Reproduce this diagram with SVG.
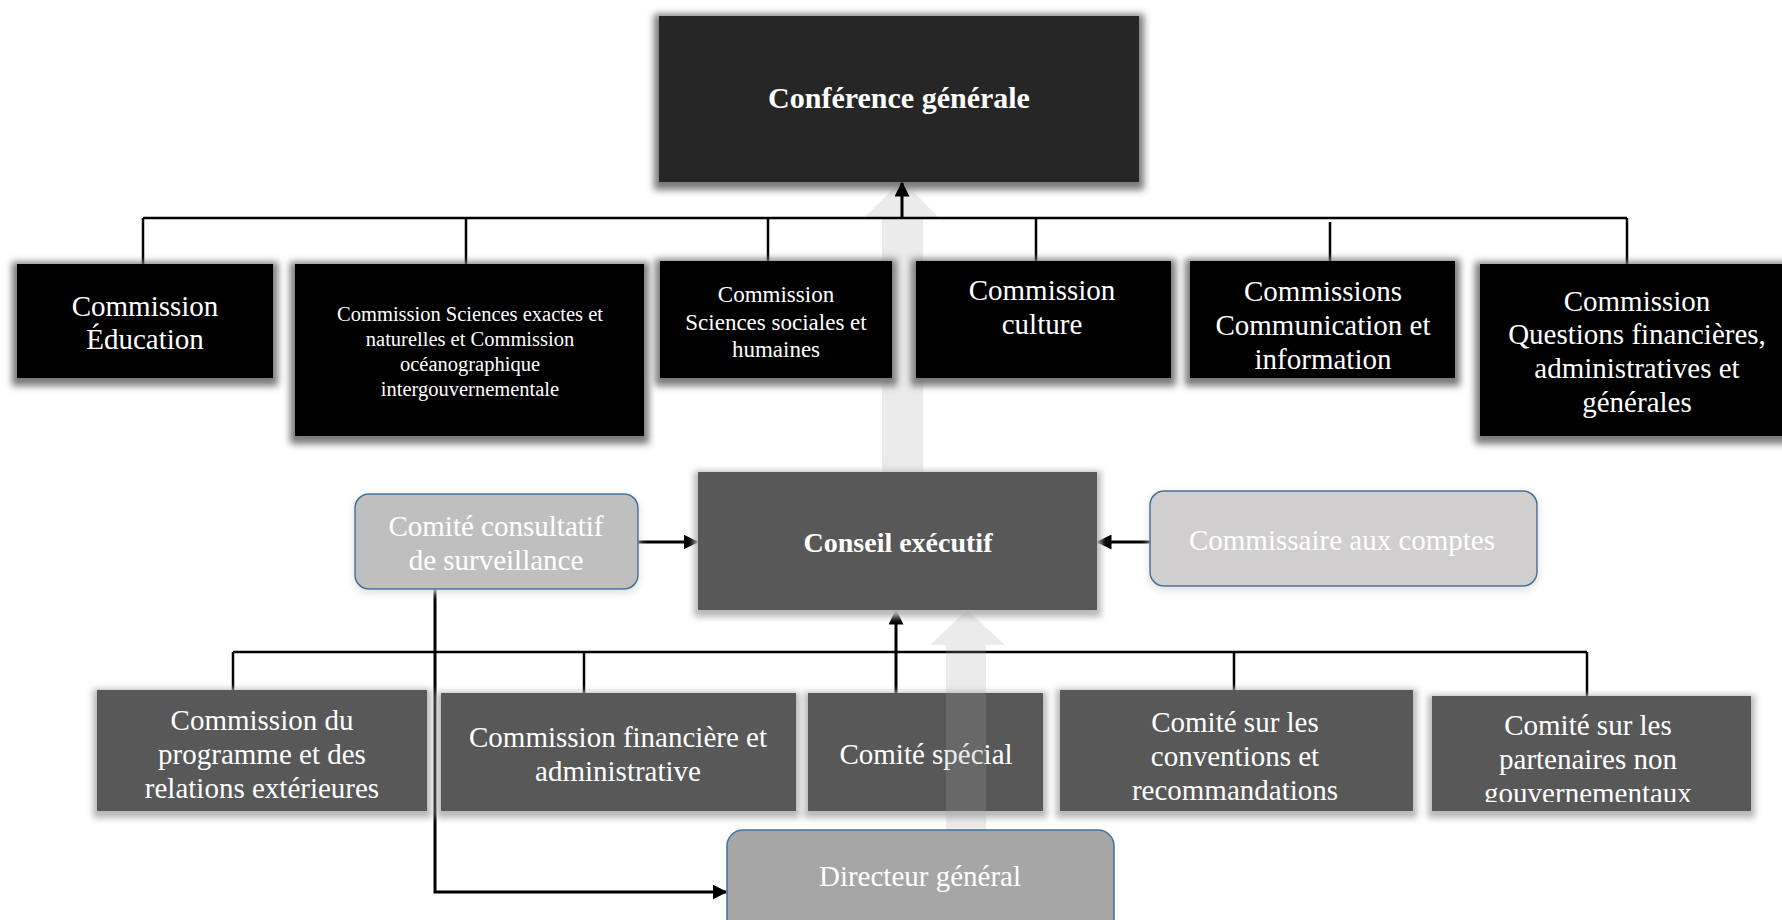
<svg xmlns="http://www.w3.org/2000/svg" width="1782" height="920" viewBox="0 0 1782 920">
<style>
text{font-family:"Liberation Serif","Times New Roman",serif;fill:#ffffff;text-anchor:middle;font-size:29px}
.b{font-weight:bold}
.s{font-size:20.5px}
.m{font-size:23px}
.bus{stroke:#000;stroke-width:2.5;fill:none}
.arr{stroke:#000;stroke-width:3;fill:none;marker-end:url(#ah)}
.big{fill:#a6a6a6;fill-opacity:0.22}
</style>
<defs>
<filter id="glow" x="-10%" y="-15%" width="120%" height="135%">
<feMorphology in="SourceAlpha" operator="dilate" radius="5"/>
<feGaussianBlur stdDeviation="3.5"/>
<feOffset dx="0" dy="3" result="b"/>
<feFlood flood-color="#7a7a7a"/>
<feComposite in2="b" operator="in"/>
<feMerge><feMergeNode/><feMergeNode in="SourceGraphic"/></feMerge>
</filter>
<filter id="soft" x="-10%" y="-15%" width="120%" height="135%">
<feMorphology in="SourceAlpha" operator="dilate" radius="4"/>
<feGaussianBlur stdDeviation="3"/>
<feOffset dx="0" dy="3" result="b"/>
<feFlood flood-color="#b8b8b8"/>
<feComposite in2="b" operator="in"/>
<feMerge><feMergeNode/><feMergeNode in="SourceGraphic"/></feMerge>
</filter>
<filter id="faint" x="-10%" y="-15%" width="120%" height="135%">
<feGaussianBlur in="SourceAlpha" stdDeviation="4"/>
<feOffset dx="0" dy="3" result="b"/>
<feFlood flood-color="#dcdcdc"/>
<feComposite in2="b" operator="in"/>
<feMerge><feMergeNode/><feMergeNode in="SourceGraphic"/></feMerge>
</filter>
<marker id="ah" viewBox="0 0 10 10" refX="9" refY="5" markerWidth="5" markerHeight="5" orient="auto" markerUnits="strokeWidth">
<path d="M0,0 L10,5 L0,10 z" fill="#000"/>
</marker>
<clipPath id="clipP"><rect x="1432" y="696" width="319" height="106"/></clipPath>
</defs>

<!-- big background arrow (behind) -->
<polygon class="big" points="882,472 923,472 923,218 939,218 902,180 864,218 882,218"/>

<g id="conference">
<rect x="659" y="16" width="480" height="166" fill="#262626" filter="url(#glow)"/>
<text class="b" x="899" y="108" style="font-size:30px">Conférence générale</text>
</g>

<g id="connectors">
<path class="bus" d="M143,218 H1627 M143,218 V264 M466,218 V264 M768,218 V261 M1036,218 V261 M1330,222 V261 M1627,218 V264"/>
<line class="arr" x1="902" y1="218" x2="902" y2="183"/>
<line class="arr" x1="638" y1="542" x2="697" y2="542"/>
<line class="arr" x1="1150" y1="542" x2="1098" y2="542"/>
<polyline class="arr" points="435,589 435,892 726,892"/>
<path class="bus" d="M233,652 H1587 M233,652 V690 M584,652 V693 M1234,652 V690 M1587,652 V696"/>
<line class="arr" x1="896" y1="693" x2="896" y2="611"/>
</g>

<g id="education">
<rect x="17" y="264" width="256" height="114" fill="#000" filter="url(#glow)"/>
<text x="145" y="316">Commission</text>
<text x="145" y="349">Éducation</text>
</g>
<g id="sciences-exactes">
<rect x="295" y="264" width="349" height="172" fill="#000" filter="url(#glow)"/>
<text class="s" x="470" y="321">Commission Sciences exactes et</text>
<text class="s" x="470" y="346">naturelles et Commission</text>
<text class="s" x="470" y="371">océanographique</text>
<text class="s" x="470" y="396">intergouvernementale</text>
</g>
<g id="sciences-sociales">
<rect x="660" y="261" width="232" height="117" fill="#000" filter="url(#glow)"/>
<text class="m" x="776" y="302">Commission</text>
<text class="m" x="776" y="330">Sciences sociales et</text>
<text class="m" x="776" y="357">humaines</text>
</g>
<g id="culture">
<rect x="916" y="261" width="255" height="117" fill="#000" filter="url(#glow)"/>
<text x="1042" y="300">Commission</text>
<text x="1042" y="334">culture</text>
</g>
<g id="communication">
<rect x="1190" y="261" width="265" height="117" fill="#000" filter="url(#glow)"/>
<text x="1323" y="301">Commissions</text>
<text x="1323" y="335">Communication et</text>
<text x="1323" y="369">information</text>
</g>
<g id="questions">
<rect x="1480" y="264" width="315" height="172" fill="#000" filter="url(#glow)"/>
<text x="1637" y="311">Commission</text>
<text x="1637" y="344">Questions financières,</text>
<text x="1637" y="378">administratives et</text>
<text x="1637" y="412">générales</text>
</g>

<g id="conseil">
<rect x="698" y="472" width="399" height="138" fill="#595959" filter="url(#soft)"/>
<text class="b" x="898" y="552" style="font-size:28px">Conseil exécutif</text>
</g>
<g id="comite-consultatif">
<rect x="355" y="494" width="283" height="95" rx="14" fill="#bfbfbf" stroke="#41719c" stroke-width="1.5" filter="url(#faint)"/>
<text x="496" y="536">Comité consultatif</text>
<text x="496" y="570">de surveillance</text>
</g>
<g id="commissaire">
<rect x="1150" y="491" width="387" height="95" rx="14" fill="#d0cece" stroke="#41719c" stroke-width="1.5" filter="url(#faint)"/>
<text x="1342" y="550">Commissaire aux comptes</text>
</g>

<g id="programme">
<rect x="97" y="690" width="330" height="121" fill="#595959" filter="url(#soft)"/>
<text x="262" y="730">Commission du</text>
<text x="262" y="764">programme et des</text>
<text x="262" y="798">relations extérieures</text>
</g>
<g id="financiere">
<rect x="441" y="693" width="355" height="118" fill="#595959" filter="url(#soft)"/>
<text x="618" y="747">Commission financière et</text>
<text x="618" y="781">administrative</text>
</g>
<g id="special">
<rect x="808" y="693" width="235" height="118" fill="#595959" filter="url(#soft)"/>
<text x="926" y="764">Comité spécial</text>
</g>
<g id="conventions">
<rect x="1060" y="690" width="353" height="121" fill="#595959" filter="url(#soft)"/>
<text x="1235" y="732">Comité sur les</text>
<text x="1235" y="766">conventions et</text>
<text x="1235" y="800">recommandations</text>
</g>
<g id="partenaires">
<rect x="1432" y="696" width="319" height="115" fill="#595959" filter="url(#soft)"/>
<g clip-path="url(#clipP)">
<text x="1588" y="735">Comité sur les</text>
<text x="1588" y="769">partenaires non</text>
<text x="1588" y="803">gouvernementaux</text>
</g>
</g>

<!-- big foreground arrow (semi-transparent) -->
<polygon class="big" points="946,830 986,830 986,645 1005,645 967,610 930,645 946,645"/>

<g id="directeur">
<rect x="727" y="830" width="387" height="110" rx="16" fill="#a6a6a6" stroke="#41719c" stroke-width="1.5"/>
<text x="920" y="886">Directeur général</text>
</g>
</svg>
